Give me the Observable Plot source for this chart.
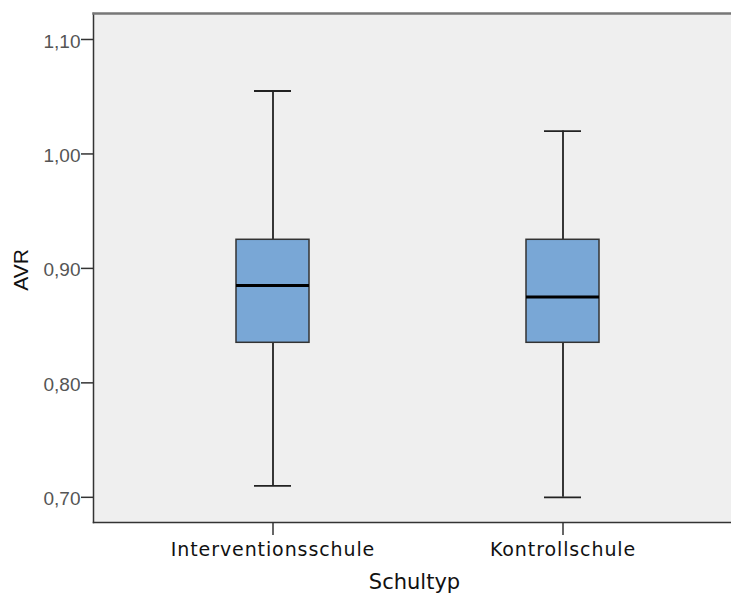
<!DOCTYPE html>
<html>
<head>
<meta charset="utf-8">
<script src="https://cdn.jsdelivr.net/npm/d3@7"></script>
<script src="https://cdn.jsdelivr.net/npm/@observablehq/plot@0.6"></script>
<style>
  html, body { margin: 0; padding: 0; background: #fff; }
  #chart svg { display: block; }
  #chart g[aria-label="y-axis tick label"] { font-family: "Liberation Sans", Arial, sans-serif; font-size: 19px; fill: #555; }
  #chart g[aria-label="x-axis tick label"] { font-family: "DejaVu Sans", Verdana, sans-serif; font-size: 19px; fill: #111; letter-spacing: 0.9px; }
</style>
</head>
<body>
<div id="chart"></div>
<script>
const schools = ["Interventionsschule", "Kontrollschule"];
const whiskerLow = [0.71, 0.70];
const q1 = [0.835, 0.835];
const median = [0.885, 0.875];
const q3 = [0.925, 0.925];
const whiskerHigh = [1.055, 1.02];
const yTicks = [0.70, 0.80, 0.90, 1.00, 1.10];

const data = schools.map((s, i) => ({
  school: s, lo: whiskerLow[i], q1: q1[i], med: median[i], q3: q3[i], hi: whiskerHigh[i]
}));

const fmt = d => d.toFixed(2).replace(".", ",");

const chart = Plot.plot({
  width: 731,
  height: 599,
  marginLeft: 93,
  marginRight: 0,
  marginTop: 13,
  marginBottom: 77,
  style: { background: "#fff", overflow: "visible" },
  x: { type: "band", domain: schools, range: [235.5, 599.5], paddingInner: 0.749, paddingOuter: 0 },
  y: { domain: [0.678, 1.1227] },
  marks: [
    Plot.frame({ fill: "#efefef", stroke: "none" }),
    Plot.frame({ anchor: "left", stroke: "#333", strokeWidth: 1.5 }),
    Plot.frame({ anchor: "top", stroke: "#777", strokeWidth: 2.5 }),
    Plot.frame({ anchor: "bottom", stroke: "#333", strokeWidth: 1.5 }),
    Plot.axisY({ ticks: yTicks, tickFormat: () => "", tickSize: 12, label: null,
      stroke: "#333", strokeWidth: 1.5 }),
    Plot.axisY({ ticks: yTicks, tickFormat: fmt, tickSize: 0, tickPadding: 13, label: null, dy: 2 }),
    Plot.axisX({ tickSize: 13, tickPadding: 7, label: null, stroke: "#333", strokeWidth: 1.5 }),
    Plot.ruleX(data, { x: "school", y1: "lo", y2: "q1", stroke: "#222", strokeWidth: 1.8 }),
    Plot.ruleX(data, { x: "school", y1: "q3", y2: "hi", stroke: "#222", strokeWidth: 1.8 }),
    Plot.tickY(data, { x: "school", y: "lo", inset: 18, stroke: "#222", strokeWidth: 1.8 }),
    Plot.tickY(data, { x: "school", y: "hi", inset: 18, stroke: "#222", strokeWidth: 1.8 }),
    Plot.barY(data, { x: "school", y1: "q1", y2: "q3", fill: "#79a7d6", stroke: "#333", strokeWidth: 1.5 }),
    Plot.tickY(data, { x: "school", y: "med", stroke: "#000", strokeWidth: 3 }),
    Plot.text(["AVR"], { frameAnchor: "left", textAnchor: "middle", rotate: -90, dx: -72, dy: 2,
      fontSize: 21, fontFamily: "Liberation Sans", fill: "#111" }),
    Plot.text(["Schultyp"], { frameAnchor: "bottom", textAnchor: "middle", dy: 66, dx: 2, fontSize: 21,
      fontFamily: "DejaVu Sans", fill: "#111", letterSpacing: "1px" })
  ]
});
document.getElementById("chart").appendChild(chart);
</script>
</body>
</html>
